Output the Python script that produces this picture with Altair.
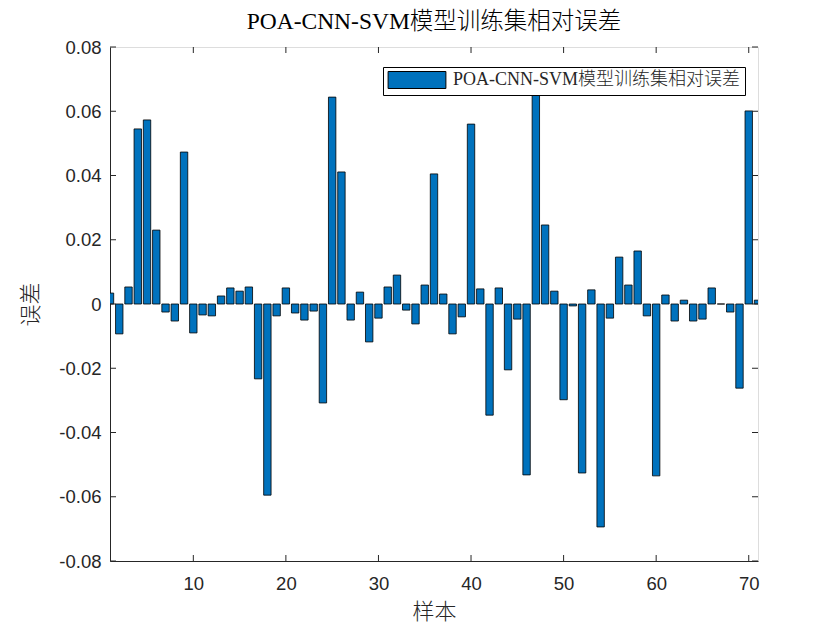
import altair as alt
import pandas as pd

samples = list(range(1, 72))
errors = [
    0.0034, -0.0093, 0.0053, 0.0545, 0.0573, 0.0230, -0.0025, -0.0053, 0.0473, -0.0090,
    -0.0034, -0.0037, 0.0025, 0.0050, 0.0040, 0.0053, -0.0233, -0.0595, -0.0037, 0.0050,
    -0.0028, -0.0050, -0.0022, -0.0308, 0.0644, 0.0411, -0.0050, 0.0037, -0.0118, -0.0044,
    0.0053, 0.0090, -0.0019, -0.0062, 0.0059, 0.0405, 0.0031, -0.0093, -0.0040, 0.0560,
    0.0047, -0.0346, 0.0050, -0.0205, -0.0047, -0.0532, 0.0680, 0.0246, 0.0040, -0.0298,
    -0.0006, -0.0526, 0.0044, -0.0694, -0.0044, 0.0146, 0.0059, 0.0165, -0.0037, -0.0535,
    0.0028, -0.0053, 0.0012, -0.0053, -0.0047, 0.0050, 0.0000, -0.0025, -0.0262, 0.0601,
    0.0012,
]
x_ticks = [10, 20, 30, 40, 50, 60, 70]
y_ticks = [-0.08, -0.06, -0.04, -0.02, 0.0, 0.02, 0.04, 0.06, 0.08]
series_name = "POA-CNN-SVM模型训练集相对误差"
title_text = "POA-CNN-SVM模型训练集相对误差"

df = pd.DataFrame({"sample": samples, "error": errors, "series": series_name})
xt = pd.DataFrame({"t": x_ticks})
yt = pd.DataFrame({"t": y_ticks})

W, H = 648, 514
xscale = alt.Scale(domain=[1, 71], nice=False, zero=False)
yscale = alt.Scale(domain=[-0.08, 0.08], nice=False)

serif = "Liberation Serif, Noto Sans CJK SC"
cjk = "Noto Sans CJK SC"
sans = "Liberation Sans, Arial"
axis_col = "#262626"

bars = alt.Chart(df).transform_calculate(
    x0="datum.sample - 0.4", x1="datum.sample + 0.4"
).mark_bar(stroke="black", strokeWidth=0.8, clip=True).encode(
    x=alt.X("x0:Q", scale=xscale,
            axis=alt.Axis(values=x_ticks, title="样本", ticks=False, grid=False,
                          labelFont=sans, labelFontSize=18.5, labelColor=axis_col,
                          labelPadding=13, titleFont=cjk, titleFontSize=22,
                          titleFontWeight=300, titleColor=axis_col, titlePadding=9,
                          domainColor=axis_col)),
    x2="x1:Q",
    y=alt.Y("error:Q", scale=yscale,
            axis=alt.Axis(values=y_ticks, title="误差", ticks=False, grid=False,
                          labelFont=sans, labelFontSize=18.5, labelColor=axis_col,
                          labelPadding=9,
                          labelExpr="datum.value == 0 ? '0' : replace(format(datum.value, '.2f'), '\u2212', '-')",
                          titleFont=cjk, titleFontSize=22, titleFontWeight=300,
                          titleColor=axis_col, titlePadding=16, domainColor=axis_col)),
    y2=alt.datum(0),
    color=alt.Color("series:N", scale=alt.Scale(range=["#0072BD"]),
                    legend=alt.Legend(title=None, orient="none", legendX=273, legendY=20,
                                      fillColor="white", strokeColor="black",
                                      padding=4,
                                      symbolType="M-3.4,-1H3.4V1H-3.4Z",
                                      symbolSize=289, symbolStrokeColor="black",
                                      symbolStrokeWidth=1, symbolOffset=21,
                                      labelOffset=27, labelFont=serif,
                                      labelFontSize=18, labelFontWeight=300,
                                      labelColor="#262626", labelLimit=400)),
)

tick_len = 6
bottom_ticks = alt.Chart(xt).mark_rule(color=axis_col, strokeWidth=1).encode(
    x=alt.X("t:Q", scale=xscale), y=alt.value(H), y2=alt.value(H - tick_len))
top_ticks = alt.Chart(xt).mark_rule(color=axis_col, strokeWidth=1).encode(
    x=alt.X("t:Q", scale=xscale), y=alt.value(0), y2=alt.value(tick_len))
left_ticks = alt.Chart(yt).mark_rule(color=axis_col, strokeWidth=1).encode(
    y=alt.Y("t:Q", scale=yscale), x=alt.value(0), x2=alt.value(tick_len))
right_ticks = alt.Chart(yt).mark_rule(color=axis_col, strokeWidth=1).encode(
    y=alt.Y("t:Q", scale=yscale), x=alt.value(W), x2=alt.value(W - tick_len))

chart = alt.layer(bars, bottom_ticks, top_ticks, left_ticks, right_ticks).properties(
    width=W, height=H,
    title=alt.Title(title_text, font=serif, fontSize=23.5, fontWeight=300,
                    color="black", offset=5),
    autosize=alt.AutoSizeParams(type="none"),
    padding={"left": 110, "top": 47, "right": 82, "bottom": 69},
).configure_view(stroke=axis_col, strokeWidth=1).configure(background="white")

chart.save("out.html", embed_options={"renderer": "svg", "actions": False})
